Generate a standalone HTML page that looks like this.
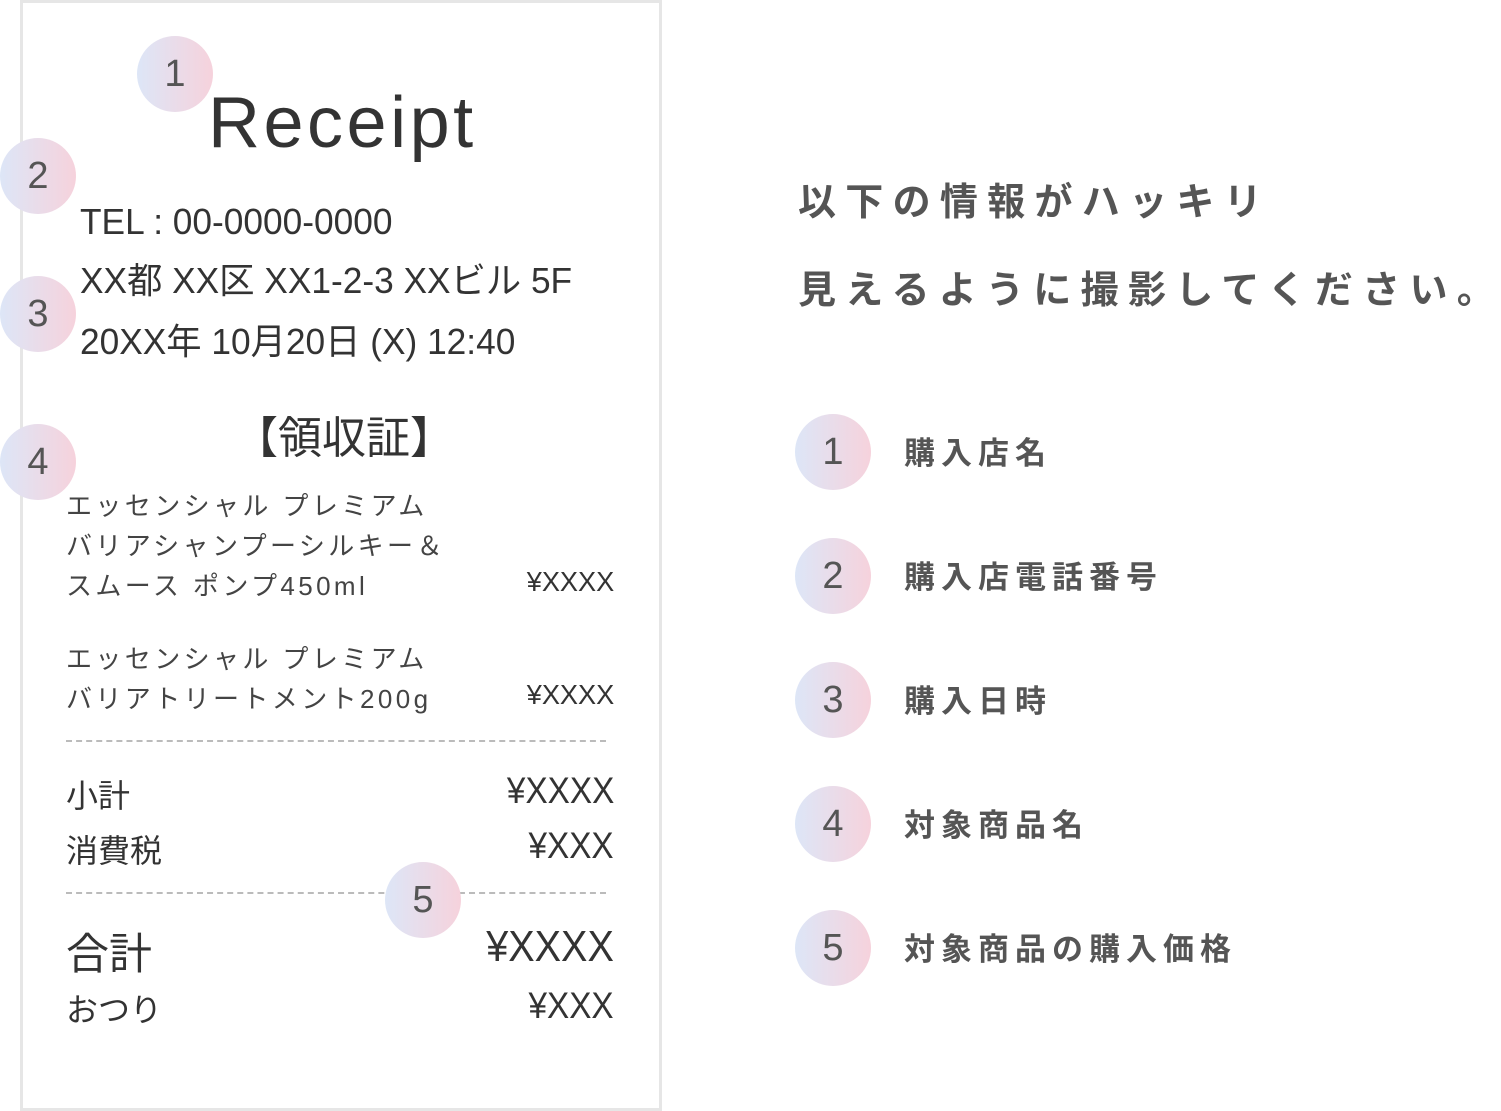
<!DOCTYPE html>
<html><head><meta charset="utf-8"><style>
body{margin:0;width:1501px;height:1110px;background:#fff;position:relative;overflow:hidden;font-family:"Liberation Sans","Noto Sans CJK JP",sans-serif;}
.a{position:absolute;white-space:nowrap;}
.box{position:absolute;left:20px;top:0;width:636px;height:1105px;border:3px solid #e6e6e6;}
.c{position:absolute;width:76px;height:76px;border-radius:50%;background:linear-gradient(90deg,#dde6f7,#f6d2dc);color:#555;font-size:38px;text-align:center;line-height:76px;}
.n{color:#333;transform-origin:left top;transform:scaleX(0.98);}
.k{color:#444;font-size:26px;letter-spacing:3.4px;}
.p{position:absolute;right:887px;white-space:nowrap;color:#333;transform-origin:right top;transform:scaleX(0.9);}
.d{position:absolute;left:66px;width:540px;border-top:2px dashed #bbb;}
.h{color:#555;font-size:38px;font-weight:bold;letter-spacing:9.3px;}
.l{color:#555;font-size:31px;font-weight:bold;letter-spacing:6px;}
</style></head><body>
<div class="box"></div>
<div class="a" style="left:208px;top:82px;font-size:72px;color:#333;letter-spacing:3.5px;">Receipt</div>
<div class="a n" style="left:80px;top:201px;font-size:36px;">TEL : 00-0000-0000</div>
<div class="a n" style="left:80px;top:252px;font-size:36px;">XX都 XX区 XX1-2-3 XXビル 5F</div>
<div class="a n" style="left:80px;top:313px;font-size:36px;">20XX年 10月20日 (X) 12:40</div>
<div class="a" style="left:234px;top:402px;font-size:44px;color:#333;">【領収証】</div>
<div class="a k" style="left:66px;top:486px;">エッセンシャル プレミアム</div>
<div class="a k" style="left:66px;top:526px;">バリアシャンプーシルキー＆</div>
<div class="a k" style="left:66px;top:566px;">スムース ポンプ450ml</div>
<div class="p" style="top:566px;font-size:28px;transform:scaleX(0.97)">¥XXXX</div>
<div class="a k" style="left:66px;top:639px;">エッセンシャル プレミアム</div>
<div class="a k" style="left:66px;top:679px;">バリアトリートメント200g</div>
<div class="p" style="top:679px;font-size:28px;transform:scaleX(0.97)">¥XXXX</div>
<div class="d" style="top:740px;"></div>
<div class="a" style="left:66px;top:771px;font-size:32px;color:#333;">小計</div>
<div class="p" style="top:770px;font-size:37px;">¥XXXX</div>
<div class="a" style="left:66px;top:826px;font-size:32px;color:#333;">消費税</div>
<div class="p" style="top:825px;font-size:37px;">¥XXX</div>
<div class="d" style="top:892px;"></div>
<div class="a" style="left:66px;top:920px;font-size:43px;color:#333;">合計</div>
<div class="p" style="top:922px;font-size:44px;">¥XXXX</div>
<div class="a" style="left:66px;top:985px;font-size:32px;color:#333;">おつり</div>
<div class="p" style="top:985px;font-size:37px;">¥XXX</div>
<div class="c" style="left:137px;top:36px;">1</div>
<div class="c" style="left:0px;top:138px;">2</div>
<div class="c" style="left:0px;top:276px;">3</div>
<div class="c" style="left:0px;top:424px;">4</div>
<div class="c" style="left:385px;top:862px;">5</div>
<div class="a h" style="left:798px;top:171px;">以下の情報がハッキリ</div>
<div class="a h" style="left:798px;top:259px;">見えるように撮影してください。</div>
<div class="c" style="left:795px;top:414px;">1</div>
<div class="c" style="left:795px;top:538px;">2</div>
<div class="c" style="left:795px;top:662px;">3</div>
<div class="c" style="left:795px;top:786px;">4</div>
<div class="c" style="left:795px;top:910px;">5</div>
<div class="a l" style="left:904px;top:428px;">購入店名</div>
<div class="a l" style="left:904px;top:552px;">購入店電話番号</div>
<div class="a l" style="left:904px;top:676px;">購入日時</div>
<div class="a l" style="left:904px;top:800px;">対象商品名</div>
<div class="a l" style="left:904px;top:924px;">対象商品の購入価格</div>
</body></html>
